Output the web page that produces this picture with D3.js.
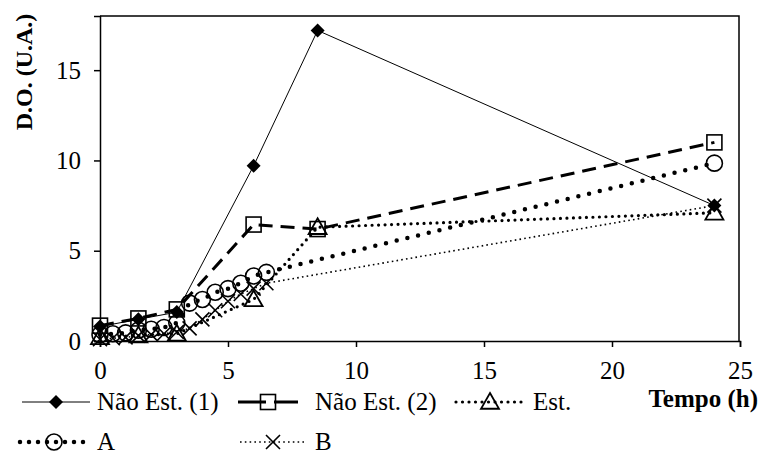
<!DOCTYPE html>
<html>
<head>
<meta charset="utf-8">
<script src="https://cdn.jsdelivr.net/npm/d3@7/dist/d3.min.js"></script>
<style>
  html, body { margin: 0; padding: 0; background: #fff; }
  svg { display: block; }
  svg text { font-family: "Liberation Serif", "Times New Roman", serif; fill: #000; }
</style>
</head>
<body>
<svg id="chart" width="760" height="456"></svg>
<script>
// Optical density (D.O.) over time for five cultures
const naoEst1X = [0, 1.5, 3, 6, 8.5, 24];
const naoEst1Y = [0.8, 1.2, 1.6, 9.7, 17.2, 7.5];

const naoEst2X = [0, 1.5, 3, 6, 8.5, 24];
const naoEst2Y = [0.85, 1.25, 1.75, 6.45, 6.2, 11.0];

const estX = [0, 1.5, 3, 6, 8.5, 24];
const estY = [0.2, 0.3, 0.4, 2.3, 6.3, 7.1];

const aX = [0, 0.5, 1, 1.5, 2, 2.5, 3, 3.5, 4, 4.5, 5, 5.5, 6, 6.5, 24];
const aY = [0.35, 0.4, 0.45, 0.6, 0.65, 0.75, 1.0, 2.1, 2.3, 2.7, 2.9, 3.2, 3.6, 3.8, 9.85];

const bX = [0, 0.5, 1, 1.5, 2, 2.5, 3, 3.5, 4, 4.5, 5, 5.5, 6, 6.5, 24];
const bY = [0.1, 0.15, 0.2, 0.3, 0.35, 0.4, 0.5, 0.7, 1.2, 1.7, 2.2, 2.6, 2.9, 3.2, 7.5];

const xTicks = [0, 5, 10, 15, 20, 25];
const yTicks = [0, 5, 10, 15];

const FONT = "'Liberation Serif', 'Times New Roman', serif";

const series = [
  { name: "Não Est. (1)", xs: naoEst1X, ys: naoEst1Y, marker: "diamond",
    line: { width: 1, dash: null, cap: "butt" }, keyDash: null },
  { name: "Não Est. (2)", xs: naoEst2X, ys: naoEst2Y, marker: "square",
    line: { width: 3, dash: "14,8", cap: "butt" }, keyDash: "28,8" },
  { name: "Est.", xs: estX, ys: estY, marker: "triangle",
    line: { width: 3.2, dash: "0,6.5", cap: "round" }, keyDash: "0,6.5" },
  { name: "A", xs: aX, ys: aY, marker: "circle",
    line: { width: 4.5, dash: "0,11", cap: "round" }, keyDash: "0,9" },
  { name: "B", xs: bX, ys: bY, marker: "cross",
    line: { width: 1.6, dash: "1.6,3.2", cap: "butt" }, keyDash: "1.6,3.2" }
];

const svg = d3.select("#chart");
const plotL = 100, plotR = 740, plotT = 16, plotB = 341;

const x = d3.scaleLinear().domain([0, 25]).range([plotL, plotR]);
const y = d3.scaleLinear().domain([0, 18]).range([plotB, plotT]);

// plot frame (top and right edges)
svg.append("path")
  .attr("d", `M${plotL},${plotT}H${x(25) - 1}V${plotB}`)
  .attr("fill", "none").attr("stroke", "#000").attr("stroke-width", 1.5);

// axes
const xAxis = svg.append("g")
  .attr("transform", `translate(0,${plotB})`)
  .call(d3.axisBottom(x).tickValues(xTicks).tickSize(6).tickPadding(14).tickFormat(d3.format("d")));
const yAxis = svg.append("g")
  .attr("transform", `translate(${plotL},0)`)
  .call(d3.axisLeft(y).tickValues(yTicks).tickSize(6).tickPadding(13).tickFormat(d3.format("d")));

[xAxis, yAxis].forEach(g => {
  g.attr("font-family", null).attr("font-size", null);
  g.select(".domain").attr("stroke-width", 1.5);
  g.selectAll(".tick line").attr("stroke-width", 1.5);
  g.selectAll("text")
    .style("font-family", FONT)
    .style("font-size", "25px")
    .attr("fill", "#000");
});

// axis titles
svg.append("text")
  .attr("transform", "translate(32,72) rotate(-90)")
  .attr("text-anchor", "middle")
  .style("font-family", FONT).style("font-size", "24px").style("font-weight", "bold")
  .text("D.O. (U.A.)");
svg.append("text")
  .attr("x", 758).attr("y", 407)
  .attr("text-anchor", "end")
  .style("font-family", FONT).style("font-size", "25px").style("font-weight", "bold")
  .text("Tempo (h)");

// marker drawing
function drawMarker(g, type, cx, cy) {
  if (type === "diamond") {
    const s = 7;
    g.append("path")
      .attr("d", `M${cx},${cy - s}L${cx + s},${cy}L${cx},${cy + s}L${cx - s},${cy}Z`)
      .attr("fill", "#000");
  } else if (type === "square") {
    const s = 7.5;
    g.append("rect")
      .attr("x", cx - s).attr("y", cy - s).attr("width", 2 * s).attr("height", 2 * s)
      .attr("fill", "none").attr("stroke", "#000").attr("stroke-width", 1.6);
  } else if (type === "triangle") {
    const s = 9;
    g.append("path")
      .attr("d", `M${cx},${cy - s}L${cx + s},${cy + s * 0.75}L${cx - s},${cy + s * 0.75}Z`)
      .attr("fill", "none").attr("stroke", "#000").attr("stroke-width", 1.8);
  } else if (type === "circle") {
    g.append("circle")
      .attr("cx", cx).attr("cy", cy).attr("r", 8)
      .attr("fill", "none").attr("stroke", "#000").attr("stroke-width", 1.6);
  } else if (type === "cross") {
    const s = 7;
    g.append("path")
      .attr("d", `M${cx - s},${cy - s}L${cx + s},${cy + s}M${cx - s},${cy + s}L${cx + s},${cy - s}`)
      .attr("fill", "none").attr("stroke", "#000").attr("stroke-width", 1.6);
  }
}

const lineGen = d3.line().x(d => x(d[0])).y(d => y(d[1]));

series.forEach(s => {
  const pts = s.xs.map((v, i) => [v, s.ys[i]]);
  const g = svg.append("g");
  g.append("path")
    .attr("d", lineGen(pts))
    .attr("fill", "none").attr("stroke", "#000")
    .attr("stroke-width", s.line.width)
    .attr("stroke-dasharray", s.line.dash)
    .attr("stroke-linecap", s.line.cap);
  pts.forEach(p => drawMarker(g, s.marker, x(p[0]), y(p[1])));
});

// legend
const legendItems = [
  { s: series[0], x0: 22, x1: 90, row: 0, tx: 97 },
  { s: series[1], x0: 238, x1: 298, row: 0, tx: 315 },
  { s: series[2], x0: 456, x1: 524, row: 0, tx: 533 },
  { s: series[3], x0: 20, x1: 88, row: 1, tx: 97 },
  { s: series[4], x0: 240, x1: 306, row: 1, tx: 315 }
];
const rowY = [402, 442];
legendItems.forEach(it => {
  const g = svg.append("g");
  const ly = rowY[it.row];
  g.append("line")
    .attr("x1", it.x0).attr("x2", it.x1).attr("y1", ly).attr("y2", ly)
    .attr("stroke", "#000")
    .attr("stroke-width", it.s.line.width)
    .attr("stroke-dasharray", it.s.keyDash)
    .attr("stroke-linecap", it.s.line.cap);
  drawMarker(g, it.s.marker, (it.x0 + it.x1) / 2, ly);
  g.append("text")
    .attr("x", it.tx).attr("y", ly + 8)
    .style("font-family", FONT).style("font-size", "25px")
    .text(it.s.name);
});
</script>
</body>
</html>
